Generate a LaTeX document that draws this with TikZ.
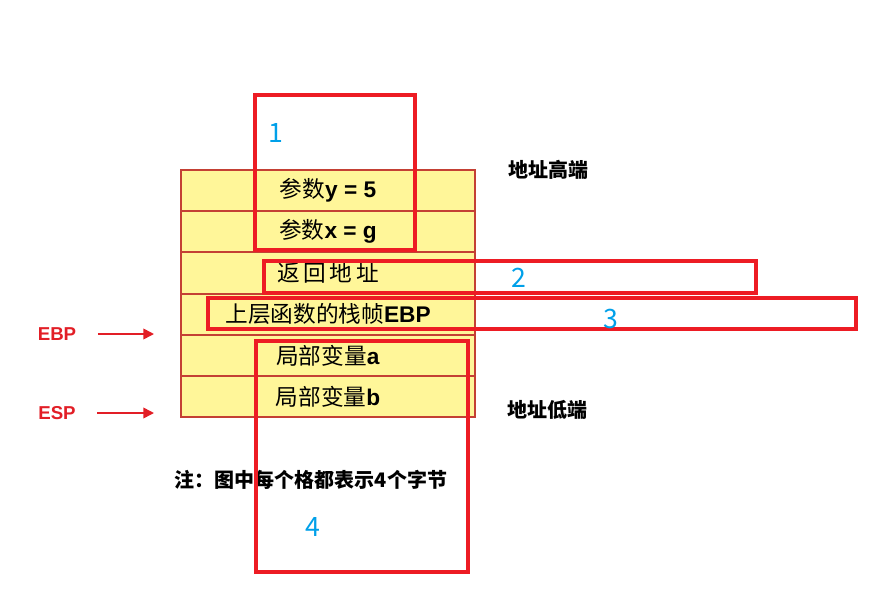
\documentclass[tikz,border=0pt]{standalone}
\usepackage{fontspec}
\setmainfont{Liberation Sans}
\newfontfamily\cjk{Noto Sans CJK SC}
\usetikzlibrary{arrows.meta}

\definecolor{stackfill}{RGB}{255,246,153}
\definecolor{stackline}{RGB}{196,64,52}
\definecolor{markred}{RGB}{237,28,36}
\definecolor{markblue}{RGB}{0,160,233}
\definecolor{ptrred}{RGB}{226,30,38}

\tikzset{
    cell/.style={draw=stackline, fill=stackfill, line width=1.5pt,
        minimum width=220.5pt, minimum height=30.9pt, inner sep=0pt,
        font=\fontsize{17}{19}\selectfont},
    markbox/.style={draw=markred, line width=2.4pt},
    marknum/.style={text=markblue, inner sep=0pt, font=\cjk\fontsize{20}{22}\selectfont},
    ptrlabel/.style={text=ptrred, inner sep=0pt, font=\bfseries\fontsize{14}{16}\selectfont},
    ptr/.style={draw=ptrred, line width=1.2pt, -{Triangle[length=8pt,width=8pt]}},
    side/.style={inner sep=0pt, font=\cjk\bfseries\fontsize{15}{17}\selectfont}
}

\begin{document}
\begin{tikzpicture}[x=0.75pt, y=-0.75pt]
        \useasboundingbox (0,0) rectangle (872,596);

        % the stack, high address on top
        \node[cell] (argy) at (328, 190.6) {{\cjk 参数}\textbf{y = 5}};
        \node[cell] (argx) at (328, 231.8) {{\cjk 参数}\textbf{x = g}};
        \node[cell] (ret)  at (328, 273.0) {\cjk 返\,回\,地\,址};
        \node[cell] (oldebp) at (328, 314.2) {{\cjk 上层函数的栈帧}\textbf{EBP}};
        \node[cell] (loca) at (328, 355.4) {{\cjk 局部变量}\textbf{a}};
        \node[cell] (locb) at (328, 396.6) {{\cjk 局部变量}\textbf{b}};

        \node[side] (high) at (548, 170) {地址高端};
        \node[side] (low)  at (547, 410) {地址低端};

        \node[side] (note) at (311, 480) {注：图中每个格都表示4个字节};

        % register pointers
        \node[ptrlabel] (ebp) at (57, 334) {EBP};
        \node[ptrlabel] (esp) at (57, 413) {ESP};
        \coordinate (ebptip) at (154, 334);
        \coordinate (esptip) at (154, 413);
        \draw[ptr, shorten <=16pt] (ebp) -- (ebptip);
        \draw[ptr, shorten <=16pt] (esp) -- (esptip);

        % marked regions
        \draw[markbox] (255, 95) rectangle (415, 250);
        \draw[markbox] (264, 261) rectangle (756, 293);
        \draw[markbox] (208, 298) rectangle (856, 329);
        \draw[markbox] (256, 341) rectangle (468, 572);

        \node[marknum] (m1) at (276, 133) {1};
        \node[marknum] (m2) at (519, 278) {2};
        \node[marknum] (m3) at (611, 319) {3};
        \node[marknum] (m4) at (313, 527) {4};

\end{tikzpicture}
\end{document}
